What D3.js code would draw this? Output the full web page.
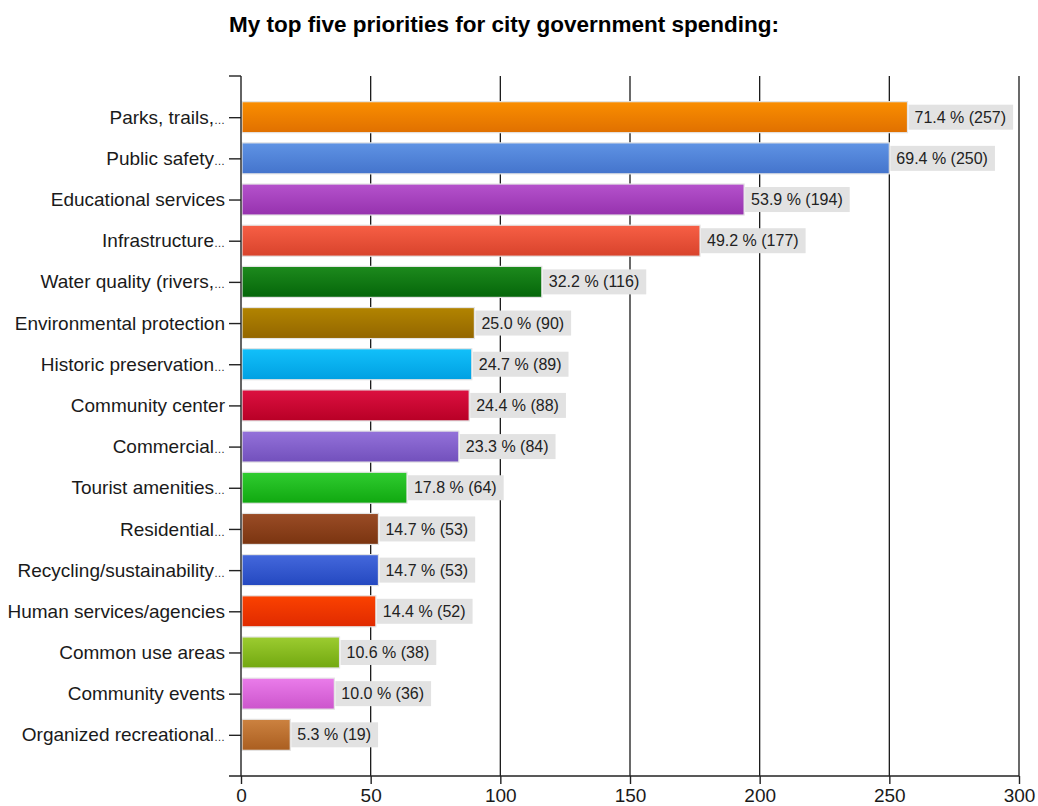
<!DOCTYPE html>
<html>
<head>
<meta charset="utf-8">
<script src="https://cdn.jsdelivr.net/npm/d3@7/dist/d3.min.js"></script>
<style>
  html, body { margin: 0; padding: 0; background: #fff; }
  svg { display: block; }
  text { font-family: "Liberation Sans", Arial, sans-serif; }
</style>
</head>
<body>
<svg id="chart" width="1038" height="806"></svg>
<script>
// Survey answers, in the order they are listed
const categories = [
  "Parks, trails,…",
  "Public safety…",
  "Educational services",
  "Infrastructure…",
  "Water quality (rivers,…",
  "Environmental protection",
  "Historic preservation…",
  "Community center",
  "Commercial…",
  "Tourist amenities…",
  "Residential…",
  "Recycling/sustainability…",
  "Human services/agencies",
  "Common use areas",
  "Community events",
  "Organized recreational…"
];
const counts = [257, 250, 194, 177, 116, 90, 89, 88, 84, 64, 53, 53, 52, 38, 36, 19];
const percents = [71.4, 69.4, 53.9, 49.2, 32.2, 25.0, 24.7, 24.4, 23.3, 17.8, 14.7, 14.7, 14.4, 10.6, 10.0, 5.3];
const barColors = [
  ["#fa8e00", "#e07000"],
  ["#5f93e4", "#4474cc"],
  ["#b552cc", "#9632ae"],
  ["#f75f45", "#d8432c"],
  ["#1d8a1d", "#05660a"],
  ["#b28400", "#936600"],
  ["#12c0fa", "#00a0e2"],
  ["#dc1040", "#b80026"],
  ["#9472da", "#7250bc"],
  ["#30cc30", "#10a810"],
  ["#9a4c26", "#7a3410"],
  ["#4468dc", "#2448c0"],
  ["#fb4200", "#e02a00"],
  ["#9ccc30", "#72a810"],
  ["#ea7cea", "#cc55cc"],
  ["#cc8240", "#aa5e20"]
];
const xTicks = [0, 50, 100, 150, 200, 250, 300];
const title = "My top five priorities for city government spending:";

const svg = d3.select("#chart");
const plot = { left: 241, right: 1019, top: 76, bottom: 776 };

const x = d3.scaleLinear().domain([0, 300]).range([plot.left, plot.right]);
const y = d3.scalePoint().domain(categories).range([plot.top, plot.bottom]).padding(1);
const barH = 31;

// Title
svg.append("text")
  .attr("x", 504).attr("y", 32)
  .attr("text-anchor", "middle")
  .attr("font-size", 22.5).attr("font-weight", "bold")
  .attr("fill", "#000")
  .text(title);

// Gradients for the bars
const defs = svg.append("defs");
barColors.forEach((c, i) => {
  const g = defs.append("linearGradient")
    .attr("id", "grad" + i).attr("x1", 0).attr("y1", 0).attr("x2", 0).attr("y2", 1);
  g.append("stop").attr("offset", "0%").attr("stop-color", c[0]);
  g.append("stop").attr("offset", "100%").attr("stop-color", c[1]);
});

// Vertical grid lines
svg.append("g")
  .selectAll("line")
  .data(xTicks.slice(1))
  .join("line")
  .attr("x1", d => x(d)).attr("x2", d => x(d))
  .attr("y1", plot.top).attr("y2", plot.bottom)
  .attr("stroke", "#1a1a1a").attr("stroke-width", 1.3);

// Bars
const rows = svg.append("g").selectAll("g")
  .data(categories.map((c, i) => ({ c, i, v: counts[i], p: percents[i] })))
  .join("g");

rows.append("rect")
  .attr("x", x(0) + 1)
  .attr("y", d => y(d.c) - barH / 2)
  .attr("width", d => x(d.v) - x(0) - 1)
  .attr("height", barH)
  .attr("fill", d => "url(#grad" + d.i + ")")
  .attr("stroke", "#e4e4e4").attr("stroke-width", 1.2);

// Value labels on grey boxes
rows.each(function(d) {
  const g = d3.select(this);
  const bx = x(d.v) + 1;
  const t = g.append("text")
    .attr("x", bx + 6)
    .attr("y", y(d.c))
    .attr("dy", "0.35em")
    .attr("font-size", 16)
    .attr("fill", "#222")
    .text(d3.format(".1f")(d.p) + " % (" + d.v + ")");
  const w = t.node().getComputedTextLength();
  g.insert("rect", "text")
    .attr("x", bx)
    .attr("y", y(d.c) - 12.5)
    .attr("width", w + 13)
    .attr("height", 25)
    .attr("fill", "#e2e2e2");
});

// Left axis
const yAxis = svg.append("g")
  .attr("transform", `translate(${plot.left},0)`)
  .call(d3.axisLeft(y).tickSize(12).tickPadding(4));
yAxis.select(".domain").remove();
yAxis.selectAll("line").attr("stroke", "#222").attr("stroke-width", 1.4);
yAxis.selectAll("text").attr("font-size", 19).attr("fill", "#1a1a1a")
  .attr("font-family", "'Liberation Sans', Arial, sans-serif")
  .each(function(d) {
    // truncated labels get a compact ellipsis
    if (d.endsWith("…")) {
      const el = d3.select(this).text(null);
      el.append("tspan").text(d.slice(0, -1));
      el.append("tspan").attr("font-size", 11).text("…");
    }
  });
svg.append("line")
  .attr("x1", plot.left).attr("x2", plot.left)
  .attr("y1", plot.top).attr("y2", plot.bottom)
  .attr("stroke", "#222").attr("stroke-width", 1.4);
svg.append("line")
  .attr("x1", plot.left - 12).attr("x2", plot.left)
  .attr("y1", plot.top).attr("y2", plot.top)
  .attr("stroke", "#222").attr("stroke-width", 1.4);

// Bottom axis
const xAxis = svg.append("g")
  .attr("transform", `translate(0,${plot.bottom})`)
  .call(d3.axisBottom(x).tickValues(xTicks).tickSize(8).tickPadding(5));
xAxis.select(".domain").remove();
xAxis.selectAll("line").attr("stroke", "#222").attr("stroke-width", 1.4);
xAxis.selectAll("text").attr("font-size", 19).attr("fill", "#1a1a1a")
  .attr("font-family", "'Liberation Sans', Arial, sans-serif");
svg.append("line")
  .attr("x1", plot.left - 12).attr("x2", plot.right)
  .attr("y1", plot.bottom).attr("y2", plot.bottom)
  .attr("stroke", "#222").attr("stroke-width", 1.4);
</script>
</body>
</html>
